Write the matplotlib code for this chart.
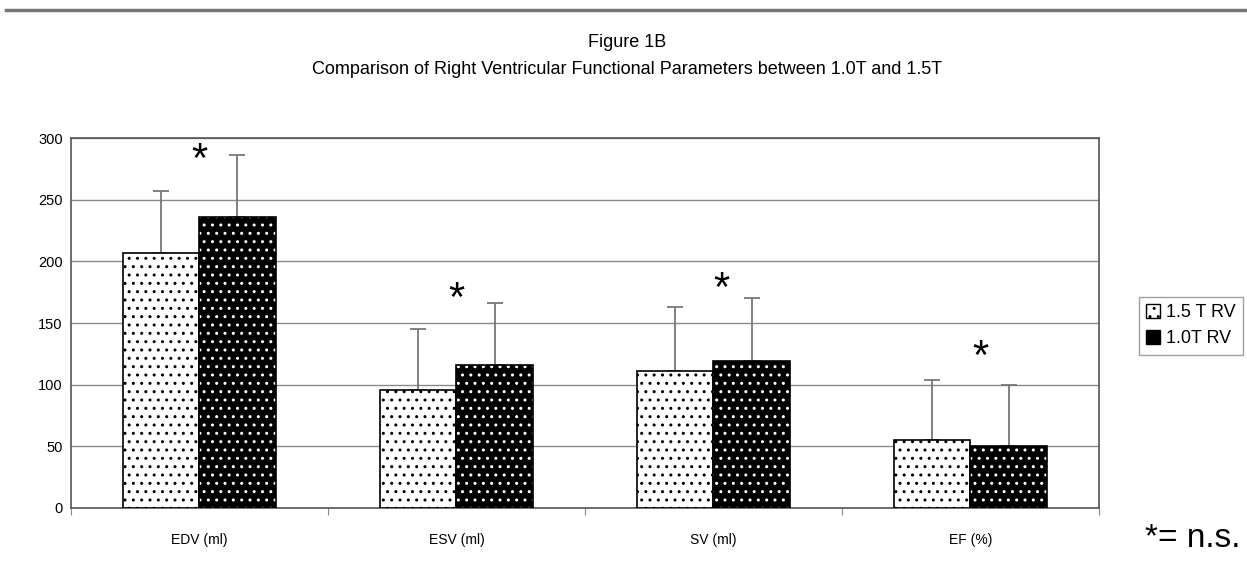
import matplotlib.pyplot as plt
from matplotlib.patches import Patch
from matplotlib.lines import Line2D
import numpy as np

# Données
categories = ["EDV (ml)", "ESV (ml)", "SV (ml)", "EF (%)"]
rv_15 = [207, 96, 111, 55]
rv_15_err = [50, 49, 52, 49]
rv_10 = [236, 116, 119, 50]
rv_10_err = [50, 50, 51, 50]
star_x = [0.0, 1.0, 2.03, 3.04]
star_y = [281, 169, 177, 122]
legend_labels = ["1.5 T RV", "1.0T RV"]

plt.rcParams['font.family'] = ['Liberation Sans', 'DejaVu Sans']
plt.rcParams['hatch.linewidth'] = 1.0

fig = plt.figure(figsize=(12.47, 5.64), dpi=100)
ax = fig.add_axes([0.0569, 0.0993, 0.8244, 0.656])

x = np.arange(len(categories))
w = 0.296

# Barres 1.5T : blanches à pois noirs
plt.rcParams['hatch.color'] = 'black'
ax.bar(x - w / 2, rv_15, w, color='white', hatch='..', edgecolor='black',
       linewidth=1.2, zorder=3)

# Barres 1.0T : noires à pois blancs (hatch blanc puis contour noir)
ax.bar(x + w / 2, rv_10, w, color='black', hatch='..', edgecolor='white',
       linewidth=0, zorder=3)
ax.bar(x + w / 2, rv_10, w, fill=False, edgecolor='black', linewidth=1.2, zorder=4)

# Barres d'erreur (vers le haut uniquement)
ax.errorbar(x - w / 2, rv_15, yerr=[np.zeros(4), rv_15_err], fmt='none',
            ecolor='#777777', elinewidth=1.3, capsize=6, capthick=1.3, zorder=2)
ax.errorbar(x + w / 2, rv_10, yerr=[np.zeros(4), rv_10_err], fmt='none',
            ecolor='#777777', elinewidth=1.3, capsize=6, capthick=1.3, zorder=2)

for sx, sy in zip(star_x, star_y):
    ax.text(sx, sy, "*", ha='center', va='center', fontsize=30, zorder=5)

ax.set_xlim(-0.5, 3.5)
ax.set_ylim(0, 300)
ax.set_yticks(range(0, 301, 50))
ax.yaxis.grid(True, color='#8a8a8a', linewidth=1.0, zorder=0)
ax.tick_params(axis='y', length=0, labelsize=10.5, pad=6)

# Ticks aux frontières des catégories, étiquettes centrées
ax.set_xticks(np.arange(-0.5, 4.0, 1.0))
ax.set_xticklabels([])
ax.set_xticks(x, minor=True)
ax.set_xticklabels(categories, minor=True)
ax.tick_params(axis='x', which='major', length=5, color='#888888', direction='out')
ax.tick_params(axis='x', which='minor', length=0, labelsize=10, pad=18)

for s in ax.spines.values():
    s.set_color('#555555')
    s.set_linewidth(1.2)

handles = [Patch(facecolor='white', edgecolor='black', hatch='..'),
           Patch(facecolor='black', edgecolor='black', hatch='..')]
leg = fig.legend(handles, legend_labels, loc='upper left',
                 bbox_to_anchor=(0.906, 0.49), fontsize=13, frameon=True,
                 fancybox=False, handlelength=0.8, handleheight=0.8,
                 handletextpad=0.3, labelspacing=0.5, borderpad=0.4)
leg.get_frame().set_edgecolor('#888888')
leg.get_frame().set_linewidth(1.0)

fig.text(0.503, 0.925, "Figure 1B", ha='center', va='center', fontsize=13)
fig.text(0.503, 0.876, "Comparison of Right Ventricular Functional Parameters between 1.0T and 1.5T",
         ha='center', va='center', fontsize=13)
fig.text(0.995, 0.045, "*= n.s.", ha='right', va='center', fontsize=24)

fig.add_artist(Line2D([0.005, 1.0], [0.982, 0.982], transform=fig.transFigure,
                      color='#777777', linewidth=2.5))

fig.savefig("out.png", dpi=100)
